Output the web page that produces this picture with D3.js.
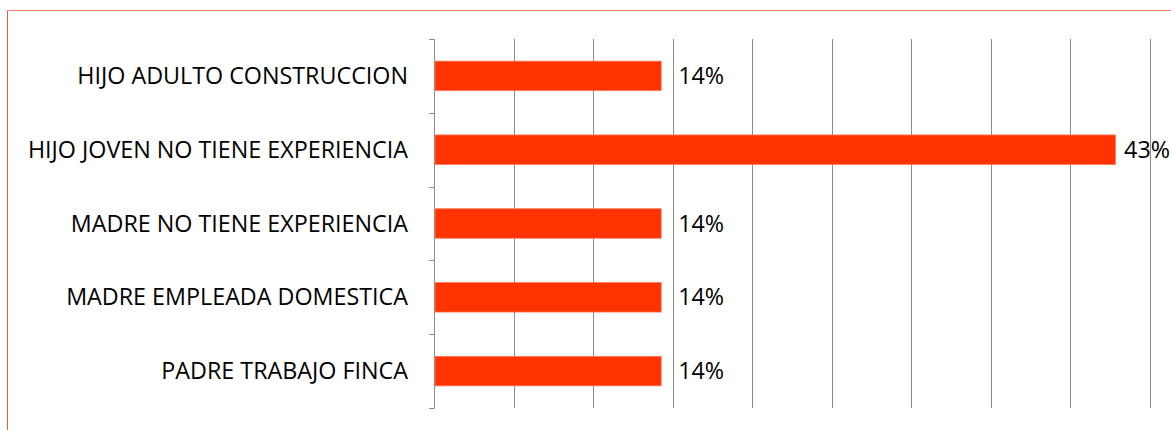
<!DOCTYPE html>
<html>
<head>
<meta charset="utf-8">
<script src="https://cdn.jsdelivr.net/npm/d3@7"></script>
<style>
	body { margin: 0; background: #fff; }
	svg { display: block; }
</style>
</head>
<body>
<svg id="chart" width="1171" height="430"></svg>
<script>
	// data, top to bottom
	var categories = [ "HIJO ADULTO CONSTRUCCION", "HIJO JOVEN NO TIENE EXPERIENCIA", "MADRE NO TIENE EXPERIENCIA",
			"MADRE EMPLEADA DOMESTICA", "PADRE TRABAJO FINCA" ];
	var values = [ 14.29, 42.86, 14.29, 14.29, 14.29 ];
	var valueLabels = [ "14%", "43%", "14%", "14%", "14%" ];
	var gridTicks = [ 5, 10, 15, 20, 25, 30, 35, 40, 45 ];

	var svg = d3.select("#chart");
	var width = 1171;
	var fontFamily = "'Open Sans', 'Noto Sans', sans-serif";
	var fontSize = "23.3px";

	// outer frame (only top and left edges fall inside the picture)
	svg.append("line").attr("x1", 7.5).attr("y1", 10.5).attr("x2", width).attr("y2", 10.5)//
	.style("stroke", "#f98262").style("stroke-width", 1);
	svg.append("line").attr("x1", 7.5).attr("y1", 10.5).attr("x2", 7.5).attr("y2", 430)//
	.style("stroke", "#f45a36").style("stroke-width", 1);

	var xScale = d3.scaleLinear().domain([ 0, 45 ]).range([ 434, 1149.5 ]);
	var yScale = d3.scaleBand().domain(categories).range([ 39, 408 ]).paddingInner(0.6).paddingOuter(0.3);

	// vertical gridlines
	svg.append("g").selectAll("line").data(gridTicks).enter().append("line")//
	.attr("x1", function(d) {
		return Math.round(xScale(d)) + 0.5;
	})//
	.attr("x2", function(d) {
		return Math.round(xScale(d)) + 0.5;
	})//
	.attr("y1", 39).attr("y2", 408)//
	.style("stroke", "#8c8c8c").style("stroke-width", 1);

	// category axis with ticks between bands
	var axisG = svg.append("g");
	axisG.append("line").attr("x1", 434.5).attr("x2", 434.5).attr("y1", 39).attr("y2", 408)//
	.style("stroke", "#8c8c8c");
	var boundaries = d3.range(categories.length + 1).map(function(i) {
		return 39 + i * (408 - 39) / categories.length;
	});
	axisG.selectAll(".tick").data(boundaries).enter().append("line")//
	.attr("x1", 429).attr("x2", 434.5)//
	.attr("y1", function(d) {
		return Math.round(d) + 0.5;
	})//
	.attr("y2", function(d) {
		return Math.round(d) + 0.5;
	})//
	.style("stroke", "#8c8c8c");

	axisG.selectAll("text").data(categories).enter().append("text")//
	.attr("x", 408)//
	.attr("y", function(d) {
		return yScale(d) + yScale.bandwidth() / 2;
	})//
	.attr("dy", "0.35em")//
	.attr("text-anchor", "end")//
	.style("font-family", fontFamily).style("font-size", fontSize).style("fill", "#000")//
	.text(function(d) {
		return d;
	});

	// bars
	svg.append("g").selectAll("rect").data(values).enter().append("rect")//
	.attr("x", xScale(0) + 1)//
	.attr("y", function(d, i) {
		return yScale(categories[i]);
	})//
	.attr("width", function(d) {
		return xScale(d) - xScale(0) - 1;
	})//
	.attr("height", yScale.bandwidth())//
	.style("fill", "#ff3300")//
	.style("stroke", "#ff7a5c").style("stroke-width", 0.8);

	// value labels
	var labels = svg.append("g").selectAll("text").data(values).enter().append("text")//
	.attr("y", function(d, i) {
		return yScale(categories[i]) + yScale.bandwidth() / 2;
	})//
	.attr("dy", "0.35em")//
	.style("font-family", fontFamily).style("font-size", fontSize).style("fill", "#000")//
	.text(function(d, i) {
		return valueLabels[i];
	});
	labels.attr("x", function(d) {
		var w = this.getComputedTextLength();
		return Math.min(xScale(d) + 17, width - 1 - w);
	});
</script>
</body>
</html>
